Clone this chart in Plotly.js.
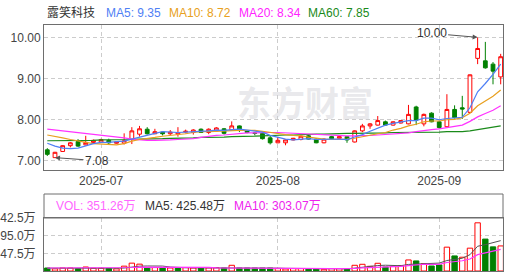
<!DOCTYPE html>
<html>
<head>
<meta charset="utf-8">
<script src="https://cdn.plot.ly/plotly-3.0.1.min.js"></script>
<style>html,body{margin:0;padding:0;background:#fff;}#chart{width:506px;height:274px;}</style>
</head>
<body>
<div id="chart"></div>
<script>
const stockName = '露笑科技';
const dates = ['2025-06-20','2025-06-23','2025-06-24','2025-06-25','2025-06-26','2025-06-27','2025-06-30',
'2025-07-01','2025-07-02','2025-07-03','2025-07-04','2025-07-07','2025-07-08','2025-07-09','2025-07-10','2025-07-11',
'2025-07-14','2025-07-15','2025-07-16','2025-07-17','2025-07-18','2025-07-21','2025-07-22','2025-07-23','2025-07-24','2025-07-25',
'2025-07-28','2025-07-29','2025-07-30','2025-07-31',
'2025-08-01','2025-08-04','2025-08-05','2025-08-06','2025-08-07','2025-08-08','2025-08-11','2025-08-12','2025-08-13','2025-08-14','2025-08-15',
'2025-08-18','2025-08-19','2025-08-20','2025-08-21','2025-08-22','2025-08-25','2025-08-26','2025-08-27','2025-08-28','2025-08-29',
'2025-09-01','2025-09-02','2025-09-03','2025-09-04','2025-09-05','2025-09-08','2025-09-09','2025-09-10','2025-09-11'];

const openP  = [7.27,7.08,7.23,7.37,7.47,7.39,7.45,7.46,7.50,7.43,7.43,7.53,7.65,7.77,7.66,7.70,7.66,7.65,7.70,7.69,7.77,7.69,7.73,7.78,7.75,7.85,7.73,7.68,7.67,7.56,7.44,7.44,7.51,7.52,7.61,7.53,7.44,7.59,7.55,7.59,7.46,7.73,7.85,7.87,7.95,7.87,7.92,7.90,8.31,7.90,8.16,7.95,7.83,8.25,8.29,8.18,9.49,9.43,9.35,9.04];
const highP  = [7.31,7.22,7.38,7.46,7.53,7.61,7.52,7.54,7.54,7.48,7.67,7.82,7.85,7.82,7.78,7.72,7.75,7.82,7.76,7.77,7.79,7.79,7.82,7.80,7.96,7.86,7.75,7.70,7.70,7.63,7.58,7.52,7.56,7.62,7.63,7.55,7.55,7.61,7.60,7.60,7.74,7.90,7.92,8.09,7.98,7.96,7.99,8.36,8.34,8.15,8.18,7.98,8.62,8.35,8.58,9.10,10.00,9.89,9.40,9.60];
const lowP   = [7.12,7.08,7.22,7.33,7.34,7.38,7.44,7.45,7.40,7.42,7.40,7.41,7.59,7.64,7.65,7.62,7.62,7.59,7.67,7.64,7.69,7.65,7.72,7.64,7.74,7.70,7.67,7.62,7.52,7.40,7.43,7.38,7.50,7.50,7.52,7.43,7.43,7.51,7.54,7.44,7.45,7.70,7.78,7.86,7.86,7.86,7.91,7.89,7.87,7.84,7.94,7.78,7.82,8.03,8.02,8.17,9.35,9.24,8.86,8.86];
const closeP = [7.16,7.21,7.37,7.44,7.36,7.45,7.50,7.52,7.44,7.46,7.49,7.73,7.78,7.66,7.71,7.66,7.70,7.69,7.72,7.75,7.69,7.77,7.80,7.67,7.85,7.74,7.69,7.67,7.54,7.44,7.50,7.51,7.55,7.60,7.53,7.44,7.53,7.54,7.59,7.51,7.73,7.85,7.90,7.98,7.87,7.95,7.98,8.13,7.99,8.13,7.95,7.81,8.25,8.05,8.26,9.09,9.73,9.26,9.18,9.53];

const ma5  = [7.43,7.36,7.31,7.30,7.31,7.37,7.42,7.45,7.45,7.47,7.48,7.53,7.58,7.62,7.67,7.71,7.70,7.69,7.70,7.71,7.71,7.73,7.75,7.74,7.76,7.77,7.75,7.72,7.70,7.62,7.57,7.53,7.51,7.52,7.54,7.52,7.53,7.53,7.53,7.52,7.58,7.64,7.72,7.79,7.87,7.91,7.94,7.98,7.98,8.04,8.04,8.00,8.03,8.04,8.06,8.29,8.68,8.88,9.10,9.35];
const ma10 = [7.63,7.60,7.56,7.52,7.48,7.45,7.42,7.41,7.40,7.39,7.42,7.48,7.52,7.54,7.57,7.60,7.62,7.63,7.66,7.69,7.71,7.71,7.72,7.72,7.73,7.74,7.74,7.74,7.72,7.69,7.67,7.64,7.62,7.61,7.58,7.55,7.53,7.52,7.52,7.53,7.55,7.59,7.62,7.66,7.69,7.75,7.79,7.85,7.89,7.95,7.97,7.97,8.00,8.01,8.05,8.16,8.34,8.45,8.57,8.72];
const ma20 = [7.77,7.75,7.73,7.71,7.69,7.67,7.65,7.63,7.61,7.59,7.56,7.53,7.51,7.50,7.50,7.50,7.51,7.52,7.53,7.54,7.57,7.60,7.62,7.63,7.65,7.67,7.68,7.68,7.69,7.69,7.69,7.68,7.67,7.66,7.65,7.64,7.63,7.63,7.62,7.61,7.61,7.61,7.62,7.63,7.64,7.65,7.66,7.68,7.71,7.74,7.76,7.78,7.81,7.84,7.87,7.96,8.07,8.15,8.23,8.34];
const ma60 = [7.49,7.49,7.49,7.50,7.50,7.50,7.50,7.51,7.51,7.51,7.52,7.52,7.53,7.53,7.54,7.54,7.55,7.55,7.56,7.56,7.57,7.57,7.58,7.58,7.59,7.59,7.60,7.60,7.61,7.62,7.62,7.63,7.63,7.64,7.64,7.65,7.65,7.66,7.66,7.67,7.67,7.67,7.68,7.68,7.68,7.69,7.69,7.69,7.70,7.70,7.70,7.70,7.71,7.71,7.71,7.73,7.76,7.79,7.82,7.85];

// volume in 万
const vol = [42,30,42,42,33,56,38,38,35,30,68,110,96,47,48,45,42,45,48,42,42,44,46,42,80,42,42,42,42,42,33,28,33,33,33,28,24,33,33,33,80,94,66,108,56,66,75,155,141,103,70,85,334,211,193,320,675,447,338,351.26];
const volMa5  = [40,39,38,38,37.8,40.6,42.2,41.4,40,39.4,41.8,56.2,67.8,70.2,73.8,69.2,55.6,45.4,45.6,44.4,43.8,44.2,44.4,43.2,50.8,50.8,50.4,49.6,49.6,42,40.2,37.4,35.6,33.8,32,31,30.2,30.2,30.2,30.2,40.6,54.6,61.2,76.2,80.8,78,74.2,92,98.6,108,108.8,110.8,146.6,160.6,178.6,228.6,346.6,369.2,394.6,425.48];
const volMa10 = [42,42,41,41,40,40,40,39,39,38.6,41.2,49.2,54.6,55.1,56.6,55.5,55.9,56.6,57.9,59.1,56.5,49.9,44.9,44.4,47.6,47.3,47.3,47,46.4,46.4,45.5,43.9,42.6,41.7,37,35.6,33.8,32.9,32,31.1,35.8,42.4,45.7,53.2,55.5,59.3,64.4,76.6,87.4,94.4,93.4,92.5,119.3,129.6,143.3,168.7,228.7,253.9,273.6,303.07];

const monthTickDates = ['2025-07-01','2025-08-01','2025-09-01'];
const monthTickText = ['2025-07','2025-08','2025-09'];
const priceTicks = [7,8,9,10];
const volTicks = [0,247.5,495,742.5];
// tick labels as they appear in the reference (leading digit hidden at the left edge)
const volTickText = ['0','47.5万','95.0万','42.5万'];

const RED = '#ff0000', GREEN = '#008000';
const C5 = '#4f7ff5', C10 = '#e8a020', C20 = '#ff33ff', C60 = '#1a8a1a';

const up = closeP.map((c,i) => i === 0 ? false : c >= closeP[i-1]);
const traces = [
  {type:'candlestick', x:dates, open:openP, high:highP, low:lowP, close:closeP,
   xaxis:'x', yaxis:'y', whiskerwidth:0, hoverinfo:'skip', showlegend:false,
   increasing:{line:{color:RED,width:1}, fillcolor:'#ffffff'},
   decreasing:{line:{color:GREEN,width:1}, fillcolor:GREEN}},
  {type:'scatter', mode:'lines', x:dates, y:ma60, xaxis:'x', yaxis:'y', line:{color:C60,width:1.2}, hoverinfo:'skip', showlegend:false},
  {type:'scatter', mode:'lines', x:dates, y:ma20, xaxis:'x', yaxis:'y', line:{color:C20,width:1.2}, hoverinfo:'skip', showlegend:false},
  {type:'scatter', mode:'lines', x:dates, y:ma10, xaxis:'x', yaxis:'y', line:{color:C10,width:1.2}, hoverinfo:'skip', showlegend:false},
  {type:'scatter', mode:'lines', x:dates, y:ma5, xaxis:'x', yaxis:'y', line:{color:C5,width:1.2}, hoverinfo:'skip', showlegend:false},
  {type:'bar', x:dates, y:vol, xaxis:'x2', yaxis:'y2', hoverinfo:'skip', showlegend:false,
   marker:{color: up.map(u => u ? '#ffffff' : GREEN), line:{color: up.map(u => u ? RED : GREEN), width:1}}},
  {type:'scatter', mode:'lines', x:dates, y:volMa5, xaxis:'x2', yaxis:'y2', line:{color:'#555555',width:1}, hoverinfo:'skip', showlegend:false},
  {type:'scatter', mode:'lines', x:dates, y:volMa10, xaxis:'x2', yaxis:'y2', line:{color:'#ff33ff',width:1.2}, hoverinfo:'skip', showlegend:false}
];

const H = 274, T = 25, B = 3, plotH = H - T - B;
const py = px => (H - B - px) / plotH;   // pixel row -> paper y
const pxX = px => (px - 44) / 459;       // pixel col -> paper x

const gridStyle = {showgrid:true, gridcolor:'#cccccc', griddash:'4px,3px', gridwidth:1,
  showline:true, mirror:true, linecolor:'#6e6e6e', linewidth:1, zeroline:false, ticks:''};

const ann = (txt, x, y, color, size) => ({text:txt, xref:'paper', yref:'paper', x:pxX(x), y:py(y),
  xanchor:'left', yanchor:'middle', showarrow:false, font:{size:size||12, color:color}});

const layout = {
  width:506, height:274,
  margin:{l:44, r:3, t:T, b:B},
  paper_bgcolor:'#ffffff', plot_bgcolor:'#ffffff',
  font:{family:'"Liberation Sans", Arial, "Noto Sans CJK SC", sans-serif', size:12, color:'#444'},
  bargap:0.3,
  showlegend:false,
  xaxis:Object.assign({}, gridStyle, {type:'category', domain:[0,1], anchor:'y', range:[-0.43, 59.3],
    tickvals:monthTickDates, ticktext:monthTickText, rangeslider:{visible:false},
    tickfont:{size:12, color:'#444'}}),
  yaxis:Object.assign({}, gridStyle, {domain:[py(170), 1], anchor:'x', range:[6.78, 10.30],
    tickvals:priceTicks, tickformat:'.2f', tickfont:{size:12, color:'#444'}}),
  xaxis2:Object.assign({}, gridStyle, {type:'category', matches:'x', anchor:'y2', domain:[0,1],
    tickvals:monthTickDates, showticklabels:false}),
  yaxis2:Object.assign({}, gridStyle, {domain:[0, py(218)], anchor:'x2', range:[0, 742.5],
    tickvals:volTicks, ticktext:volTickText, ticklabelstandoff:5, tickfont:{size:12, color:'#444'}}),
  shapes:[
    {type:'rect', xref:'paper', yref:'paper', x0:0, x1:1, y0:py(218), y1:py(194),
     line:{color:'#6e6e6e', width:1}, fillcolor:'rgba(0,0,0,0)'}
  ],
  annotations:[
    {text:'东方财富', xref:'paper', yref:'paper', x:pxX(305), y:py(101), xanchor:'center', yanchor:'middle',
     showarrow:false, font:{size:34, color:'rgba(205,205,212,0.45)', family:'"Noto Sans CJK SC", sans-serif', weight:700}},
    ann(stockName, 45, 13, '#333'),
    ann('MA5: 9.35', 104, 13, C5),
    ann('MA10: 8.72', 166.5, 13, C10),
    ann('MA20: 8.34', 236.5, 13, '#ff22ff'),
    ann('MA60: 7.85', 306, 13, C60),
    ann('VOL: 351.26万', 54, 206, '#ff66ff'),
    ann('MA5: 425.48万', 143, 206, '#333'),
    ann('MA10: 303.07万', 232, 206, '#ee22ee'),
    {text:'10.00', x:dates[56], y:10.00, xref:'x', yref:'y', showarrow:true, ax:-46, ay:-4,
     arrowhead:2, arrowsize:1, arrowwidth:1, arrowcolor:'#555', standoff:0, font:{size:12, color:'#333'}},
    {text:'7.08', x:dates[1], y:7.08, xref:'x', yref:'y', showarrow:true, ax:42, ay:3,
     arrowhead:2, arrowsize:1, arrowwidth:1, arrowcolor:'#555', standoff:0, font:{size:12, color:'#333'}}
  ]
};

Plotly.newPlot('chart', traces, layout, {staticPlot:true, displayModeBar:false});
</script>
</body>
</html>
